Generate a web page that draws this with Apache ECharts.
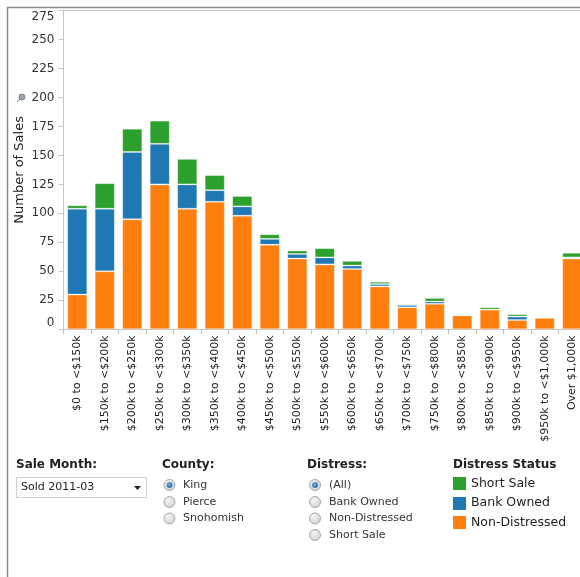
<!DOCTYPE html>
<html>
<head>
<meta charset="utf-8">
<style>html,body{margin:0;padding:0;background:#fff;}#c{width:580px;height:577px;}</style>
<script src="https://cdn.jsdelivr.net/npm/echarts@6/dist/echarts.min.js"></script>
</head>
<body>
<div id="c"></div>
<script>
var categories = ['$0 to <$150k', '$150k to <$200k', '$200k to <$250k', '$250k to <$300k', '$300k to <$350k', '$350k to <$400k', '$400k to <$450k', '$450k to <$500k', '$500k to <$550k', '$550k to <$600k', '$600k to <$650k', '$650k to <$700k', '$700k to <$750k', '$750k to <$800k', '$800k to <$850k', '$850k to <$900k', '$900k to <$950k', '$950k to <$1,000k', 'Over $1,000k'];
var nonDistressed = [30, 50, 95, 125, 104, 110, 98, 73, 61, 56, 52, 37, 19, 22, 12, 17, 8, 10, 61];
var bankOwned     = [74, 54, 58, 35, 21, 10, 8, 5, 4, 6, 3, 2, 2, 2, 1, 0, 3, 0, 1];
var shortSale     = [3, 22, 20, 20, 22, 13, 9, 4, 3, 8, 4, 2, 1, 3, 0, 2, 2, 0, 4];
var yTicks = [0, 25, 50, 75, 100, 125, 150, 175, 200, 225, 250, 275];

var FONT = 'DejaVu Sans';
var colors = {short: '#2ca02c', bank: '#1f77b4', non: '#ff7f0e'};

function radio(cx, cy, selected) {
  var els = [{
    type: 'circle', shape: {cx: cx, cy: cy, r: 5.5},
    style: {fill: new echarts.graphic.RadialGradient(0.4, 0.35, 0.8, [{offset: 0, color: '#f4f4f4'}, {offset: 1, color: '#c8c8c8'}]), stroke: '#a8a8a8', lineWidth: 1}
  }];
  if (selected) {
    els.push({type: 'circle', shape: {cx: cx, cy: cy, r: 3},
      style: {fill: new echarts.graphic.RadialGradient(0.4, 0.35, 0.8, [{offset: 0, color: '#6fb3e0'}, {offset: 1, color: '#1c5f94'}])}});
  }
  return els;
}
function txt(x, y, s, size, bold, color) {
  return {type: 'text', x: x, y: y, style: {text: s, fontFamily: FONT, fontSize: size, fontWeight: bold ? 'bold' : 'normal', fill: color || '#222', textVerticalAlign: 'middle'}};
}

var graphics = [
  {type: 'line', shape: {x1: 7.5, y1: 7, x2: 7.5, y2: 577}, style: {stroke: '#8a8a8a', lineWidth: 1.5}},
  {type: 'line', shape: {x1: 7, y1: 7.5, x2: 580, y2: 7.5}, style: {stroke: '#8a8a8a', lineWidth: 1.5}},
  {type: 'line', shape: {x1: 63.5, y1: 10.5, x2: 580, y2: 10.5}, style: {stroke: '#c4c4c4', lineWidth: 1}},
  {type: 'circle', shape: {cx: 22, cy: 97, r: 3}, style: {fill: '#9aa4b0', stroke: '#6b7580', lineWidth: 0.8}},
  {type: 'line', shape: {x1: 17, y1: 102, x2: 20, y2: 99}, style: {stroke: '#6b7580', lineWidth: 1}},
  txt(16, 465, 'Sale Month:', 12, true),
  {type: 'rect', shape: {x: 16.5, y: 477.5, width: 130, height: 20}, style: {fill: '#fff', stroke: '#d0d0d0', lineWidth: 1}},
  txt(21, 487.5, 'Sold 2011-03', 11, false),
  {type: 'polygon', shape: {points: [[134, 486], [141, 486], [137.5, 490]]}, style: {fill: '#222'}},
  txt(162, 465, 'County:', 12, true),
  txt(307, 465, 'Distress:', 12, true),
  txt(453, 465, 'Distress Status', 12, true),
  {type: 'rect', shape: {x: 453, y: 477, width: 13, height: 13}, style: {fill: colors.short}},
  {type: 'rect', shape: {x: 453, y: 497, width: 13, height: 13}, style: {fill: colors.bank}},
  {type: 'rect', shape: {x: 453, y: 516, width: 13, height: 13}, style: {fill: colors.non}},
  txt(471, 483.5, 'Short Sale', 12.5, false),
  txt(471, 503, 'Bank Owned', 12.5, false),
  txt(471, 522.5, 'Non-Distressed', 12.5, false)
];
var countyOpts = ['King', 'Pierce', 'Snohomish'];
var distressOpts = ['(All)', 'Bank Owned', 'Non-Distressed', 'Short Sale'];
var rowY = [485, 502, 518.5, 535];
countyOpts.forEach(function (s, i) {
  graphics = graphics.concat(radio(169.5, rowY[i], i === 0));
  graphics.push(txt(183, rowY[i], s, 11, false, '#333'));
});
distressOpts.forEach(function (s, i) {
  graphics = graphics.concat(radio(315, rowY[i], i === 0));
  graphics.push(txt(329, rowY[i], s, 11, false, '#333'));
});

var chart = echarts.init(document.getElementById('c'), null, {renderer: 'canvas'});
var barStyle = function (c) { return {color: c, borderColor: 'rgba(255,255,255,0.25)', borderWidth: 1}; };
chart.setOption({
  animation: false,
  textStyle: {fontFamily: FONT},
  grid: {left: 63.5, top: 10.5, width: 522.5, height: 318.8, containLabel: false, outerBoundsMode: 'none'},
  xAxis: {
    type: 'category', data: categories,
    axisLine: {lineStyle: {color: '#c4c4c4'}},
    axisTick: {show: true, length: 5, lineStyle: {color: '#c4c4c4'}},
    axisLabel: {rotate: 90, interval: 0, margin: 6, fontSize: 11, color: '#222', fontFamily: FONT}
  },
  yAxis: {
    type: 'value', min: yTicks[0], max: yTicks[yTicks.length - 1], interval: 25,
    name: 'Number of Sales', nameLocation: 'middle', nameGap: 37, nameMoveOverlap: false,
    nameTextStyle: {fontSize: 13, color: '#222', fontFamily: FONT},
    axisLine: {show: true, lineStyle: {color: '#c4c4c4'}},
    axisTick: {show: true, length: 5, lineStyle: {color: '#c4c4c4'}},
    splitLine: {show: false},
    axisLabel: {fontSize: 12, color: '#333', margin: 9, fontFamily: FONT,
      verticalAlignMaxLabel: 'top', verticalAlignMinLabel: 'bottom'}
  },
  series: [
    {name: 'Non-Distressed', type: 'bar', stack: 's', data: nonDistressed, barCategoryGap: '27%', itemStyle: barStyle(colors.non)},
    {name: 'Bank Owned', type: 'bar', stack: 's', data: bankOwned, itemStyle: barStyle(colors.bank)},
    {name: 'Short Sale', type: 'bar', stack: 's', data: shortSale, itemStyle: barStyle(colors.short)}
  ],
  graphic: {elements: graphics}
});
</script>
</body>
</html>
